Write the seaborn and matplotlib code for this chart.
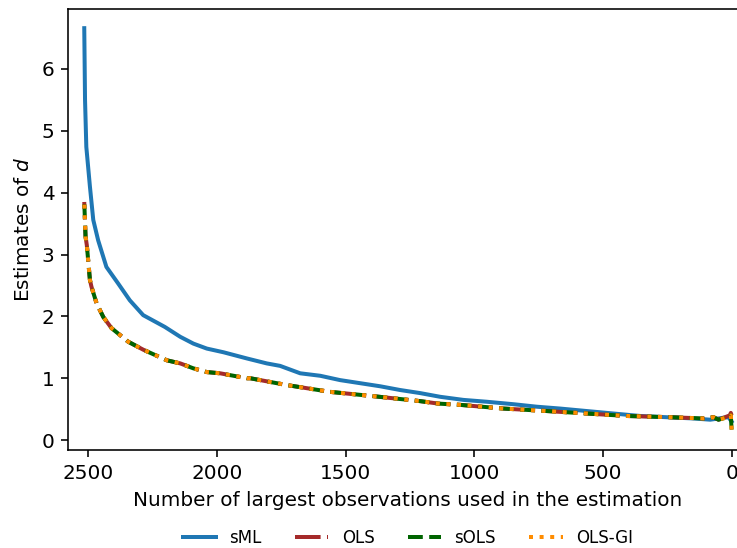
import numpy as np
import pandas as pd
import matplotlib
matplotlib.use("Agg")
import matplotlib.pyplot as plt
import seaborn as sns

# values
k_sml = [2516, 2513, 2508, 2494, 2481, 2462, 2430, 2384, 2339, 2287, 2203, 2143,
         2092, 2040, 1975, 1884, 1807, 1755, 1677, 1599, 1522, 1444, 1366, 1289,
         1211, 1133, 1043, 952, 848, 758, 667, 564, 460, 356, 253, 149, 84, 35, 13, 1]
d_sml = [6.66, 5.50, 4.74, 4.10, 3.56, 3.23, 2.80, 2.53, 2.26, 2.02, 1.83, 1.67,
         1.56, 1.48, 1.42, 1.32, 1.24, 1.20, 1.08, 1.04, 0.97, 0.92, 0.87, 0.81,
         0.76, 0.70, 0.65, 0.62, 0.58, 0.54, 0.51, 0.47, 0.43, 0.39, 0.37, 0.35, 0.33, 0.36, 0.37, 0.30]

k_ols = [2516, 2511, 2506, 2494, 2488, 2468, 2442, 2410, 2345, 2286, 2195, 2143,
         2092, 2040, 1988, 1884, 1871, 1729, 1561, 1392, 1211, 1140, 1056, 887,
         719, 564, 408, 240, 110, 71, 52, 8, 4, 1]
d_ols = [3.85, 3.29, 3.15, 2.59, 2.48, 2.21, 1.99, 1.81, 1.59, 1.46, 1.29, 1.24,
         1.16, 1.10, 1.08, 1.00, 1.00, 0.89, 0.78, 0.71, 0.63, 0.59, 0.57, 0.51,
         0.47, 0.43, 0.39, 0.37, 0.35, 0.37, 0.33, 0.40, 0.44, 0.40]
d_sols = [3.85, 3.29, 3.15, 2.59, 2.48, 2.21, 1.99, 1.81, 1.59, 1.46, 1.29, 1.24,
          1.16, 1.10, 1.08, 1.00, 1.00, 0.89, 0.78, 0.71, 0.63, 0.59, 0.57, 0.51,
          0.47, 0.43, 0.39, 0.37, 0.35, 0.37, 0.33, 0.38, 0.40, 0.17]
d_olsgi = [3.85, 3.29, 3.15, 2.59, 2.48, 2.21, 1.99, 1.81, 1.59, 1.46, 1.29, 1.24,
           1.16, 1.10, 1.08, 1.00, 1.00, 0.89, 0.78, 0.71, 0.63, 0.59, 0.57, 0.51,
           0.47, 0.43, 0.39, 0.37, 0.35, 0.37, 0.33, 0.38, 0.40, 0.17]

DPI = 144
fig = plt.figure(figsize=(737 / DPI, 548 / DPI), dpi=DPI)
ax = fig.add_axes([68.3 / 737, 98 / 548, 679 / 737, 441 / 548])

sns.lineplot(x=k_sml, y=d_sml, ax=ax, color="#1f77b4", lw=2, label="sML")
sns.lineplot(x=k_ols, y=d_ols, ax=ax, color="brown", lw=2, linestyle="-.", label="OLS")
sns.lineplot(x=k_ols, y=d_sols, ax=ax, color="darkgreen", lw=2, linestyle="--", label="sOLS")
sns.lineplot(x=k_ols, y=d_olsgi, ax=ax, color="darkorange", lw=2, linestyle=":", label="OLS-GI")

ax.set_xlim(2578, -60)
ax.set_ylim(-0.16, 6.97)
ax.set_xticks([2500, 2000, 1500, 1000, 500, 0])
ax.set_xlabel("Number of largest observations used in the estimation")
ax.set_ylabel("Estimates of $d$")
ax.legend(loc="center", bbox_to_anchor=(0.5, -0.2), ncol=4, frameon=False, fontsize="small")

fig.savefig("out.png", dpi=DPI)
